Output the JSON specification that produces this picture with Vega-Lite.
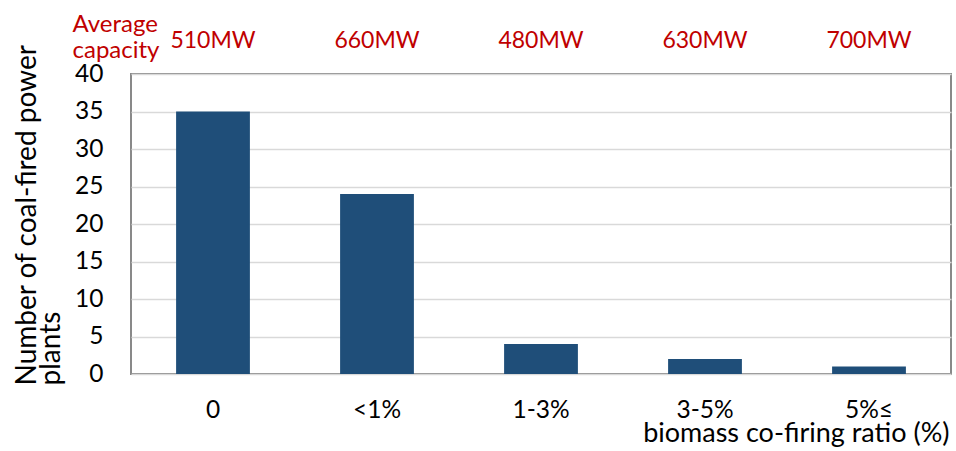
{
  "$schema": "https://vega.github.io/schema/vega-lite/v6.json",
  "autosize": {"type": "none"},
  "padding": {"left": 131, "top": 74, "right": 5, "bottom": 77},
  "width": 820,
  "height": 300,
  "background": "white",
  "config": {
    "font": "Lato",
    "view": {"stroke": "#898989", "strokeWidth": 2},
    "axis": {"labelFont": "Lato", "titleFont": "Lato", "labelFontSize": 24.5, "titleFontSize": 27, "labelColor": "#000000", "titleColor": "#000000", "titleFontWeight": "normal"},
    "axisY": {
      "values": [0, 5, 10, 15, 20, 25, 30, 35, 40],
      "labelOverlap": false,
      "ticks": false, "tickSize": 0, "domain": false,
      "labelPadding": 28,
      "grid": true, "gridColor": "#d9d9d9", "gridWidth": 1.5
    }
  },
  "data": {
    "values": [
      {"ratio": "0", "count": 35, "capacity": "510MW"},
      {"ratio": "<1%", "count": 24, "capacity": "660MW"},
      {"ratio": "1-3%", "count": 4, "capacity": "480MW"},
      {"ratio": "3-5%", "count": 2, "capacity": "630MW"},
      {"ratio": "5%≤", "count": 1, "capacity": "700MW"}
    ]
  },
  "resolve": {"axis": {"x": "independent"}},
  "layer": [
    {
      "mark": {"type": "bar", "color": "#1F4E79"},
      "encoding": {
        "x": {
          "field": "ratio", "type": "nominal", "sort": null,
          "scale": {"paddingInner": 0.55, "paddingOuter": 0.275},
          "axis": {
            "title": "biomass co-firing ratio (%)",
            "labelAngle": 0, "ticks": false, "tickSize": 0, "domain": false,
            "labelPadding": 24,
            "titleX": 818, "titleY": 67, "titleAlign": "right", "titleBaseline": "alphabetic"
          }
        },
        "y": {
          "field": "count", "type": "quantitative",
          "scale": {"domain": [0, 40], "nice": false},
          "axis": {
            "title": ["Number of coal-fired power", "plants"],
            "titleFontSize": 28,
            "titleLineHeight": 24,
            "titleX": -96, "titleY": 311, "titleAngle": 270, "titleAlign": "left", "titleBaseline": "alphabetic"
          }
        }
      }
    },
    {
      "mark": {"type": "text", "color": "#C00000", "fontSize": 23, "font": "Lato", "baseline": "alphabetic", "align": "center"},
      "encoding": {
        "x": {
          "field": "ratio", "type": "nominal", "sort": null,
          "axis": {
            "orient": "top", "labels": false, "ticks": false, "domain": false, "grid": false,
            "title": ["Average", "capacity"],
            "titleColor": "#C00000", "titleFontSize": 24, "titleLineHeight": 26,
            "titleX": -59, "titleY": -43, "titleAlign": "left", "titleBaseline": "alphabetic", "titleAngle": 0
          }
        },
        "y": {"datum": 43.47, "type": "quantitative"},
        "text": {"field": "capacity"}
      }
    }
  ]
}
